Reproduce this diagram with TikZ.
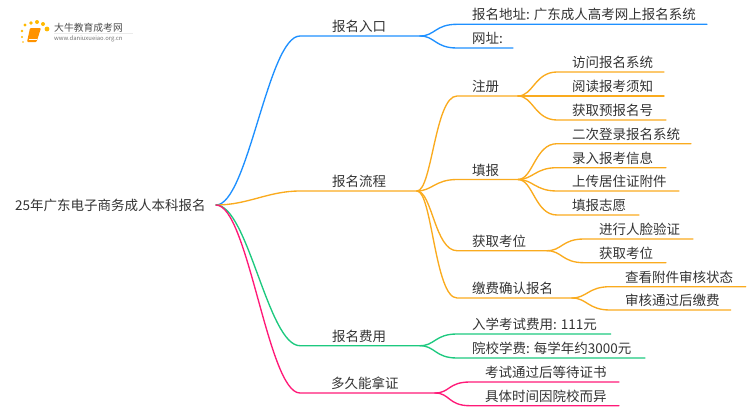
\documentclass[tikz,border=0pt]{standalone}
\usepackage{fontspec}
\setmainfont{Noto Sans CJK SC}
\definecolor{blueline}{HTML}{1E90FF}
\definecolor{orangeline}{HTML}{FAAB1E}
\definecolor{greenline}{HTML}{1DC97F}
\definecolor{pinkline}{HTML}{FF1A78}
\definecolor{inktext}{HTML}{333333}
\tikzset{
	twig/.style={line width=1.35pt,line cap=round},
	scurve/.style={out=0,in=180,out distance=15pt,in distance=22pt},
	word/.style={anchor=base west,inner sep=0pt,text=inktext,font=\fontsize{13.5}{16}\selectfont},
	dot/.style={circle,fill=orange!55!yellow,inner sep=0pt}
}
\begin{document}
\begin{tikzpicture}[x=1pt,y=-1pt]
\useasboundingbox (0,0) rectangle (750,410);
% logo
\foreach \x/\y/\r in {25/25/3.2,22/31/2.6,22/37/2.2,23/42/1.8,31/23/3.8,37/22/4,43/24/4,47/29/4.8}
  \node[dot,minimum size=\r pt] (spot\x\y) at (\x,\y) {};
\fill[orange!85!yellow,rounded corners=1pt] (30,28) -- (41,28) -- (36.5,42) -- (27,42) -- cycle;
\draw[white,line width=.5pt] (29,39.5) -- (36.5,39.5);
\draw[black!8,line width=.6pt] (54,33) -- (133,33);
\node[word,text=black!70,font=\fontsize{9.8}{11}\selectfont] (logoname) at (54,31) {大牛教育成考网};
\node[word,text=black!55,font=\fontsize{5.9}{7}\selectfont] (logourl) at (54,40) {www.daniuxueiao.org.cn};
% root
\node[word] (root) at (15,210) {25年广东电子商务成人本科报名};
\coordinate (hub) at (216,205);
% main branches
\foreach \n/\c/\y/\xe/\xt/\t in {entry/blueline/36/420/332/报名入口,flow/orangeline/191/417/332/报名流程,fee/greenline/345.7/420/332/报名费用,cert/pinkline/393/435/331/多久能拿证}{
  \node[word] (\n) at (\xt,\y-4.5) {\t};
  \coordinate (\n s) at (300,\y);
  \coordinate (\n e) at (\xe,\y);
  \draw[twig,\c] (hub) .. controls (248,205) and (268,\y) .. (\n s) -- (\n e);
}
% second level
\foreach \n/\f/\c/\y/\xs/\xe/\t in {addr/entrye/blueline/24.3/457/707/报名地址: 广东成人高考网上报名系统,site/entrye/blueline/48/457/513/网址:,
  reg/flowe/orangeline/96/457/518/注册,fill/flowe/orangeline/179.5/457/518/填报,seat/flowe/orangeline/250.7/457/547/获取考位,pay/flowe/orangeline/298/457/572/缴费确认报名,
  exam/feee/greenline/334/457/610.7/入学考试费用: 111元,tuition/feee/greenline/358/457/645/院校学费: 每学年约3000元,
  wait/certe/pinkline/382/470/619/考试通过后等待证书,time/certe/pinkline/405.7/470/619/具体时间因院校而异}{
  \node[word] (\n) at (\xs+15,\y-4.5) {\t};
  \coordinate (\n s) at (\xs,\y);
  \coordinate (\n e) at (\xe,\y);
  \draw[twig,\c] (\f) to[scurve] (\n s) -- (\n e);
}
% third level
\foreach \n/\f/\y/\xs/\xe/\t in {visit/rege/72/557/664/访问报名系统,read/rege/96/557/664/阅读报考须知,prenum/rege/120/557/666/获取预报名号,
  login/fille/143.7/557/691/二次登录报名系统,enter/fille/167.7/557/666/录入报考信息,upload/fille/191/557/679/上传居住证附件,wish/fille/215/557/639/填报志愿,
  face/seate/239/584/693/进行人脸验证,getseat/seate/262.7/584/666/获取考位,
  check/paye/286.7/610/745.7/查看附件审核状态,paid/paye/310/610/730.7/审核通过后缴费}{
  \node[word] (\n) at (\xs+15,\y-4.5) {\t};
  \coordinate (\n s) at (\xs,\y);
  \coordinate (\n e) at (\xe,\y);
  \draw[twig,orangeline] (\f) to[scurve] (\n s) -- (\n e);
}
\end{tikzpicture}
\end{document}
